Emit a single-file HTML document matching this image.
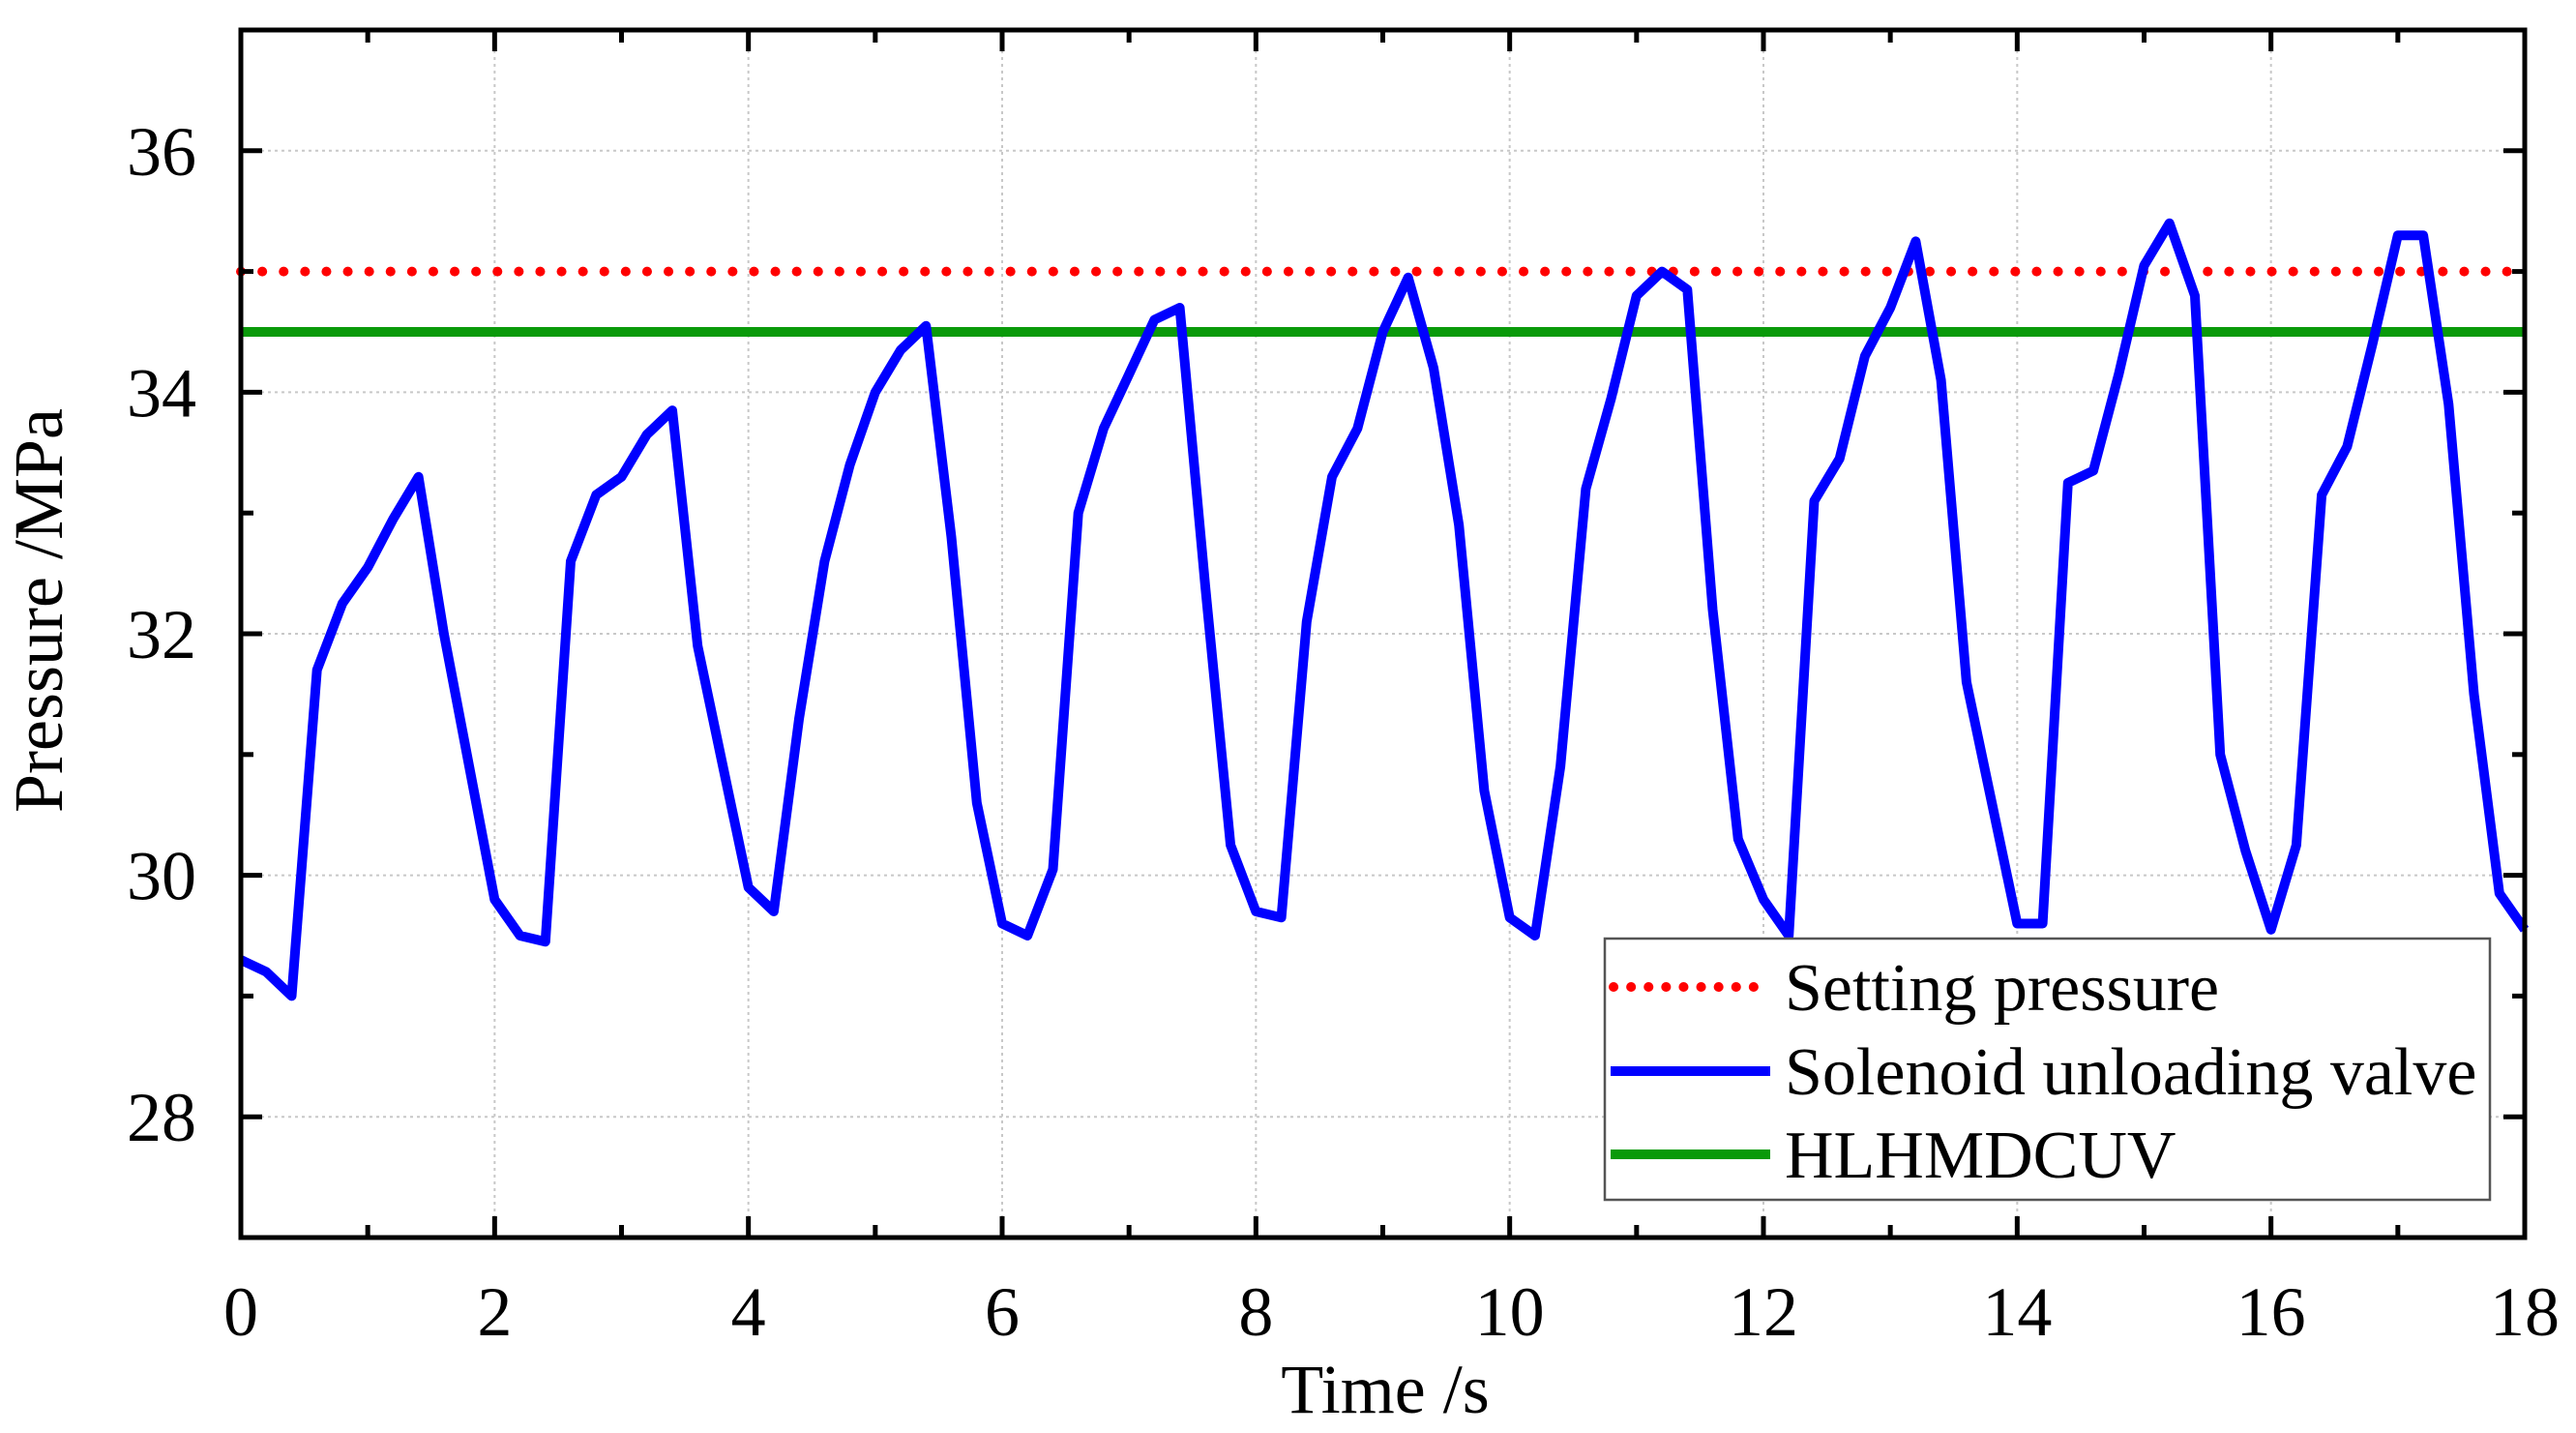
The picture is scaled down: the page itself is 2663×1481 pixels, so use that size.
<!DOCTYPE html>
<html><head><meta charset="utf-8"><style>
html,body{margin:0;padding:0;background:#fff;}
svg{display:block;font-family:"Liberation Serif",serif;}
</style></head><body>
<svg id="chart" width="2663" height="1481" viewBox="0 0 2663 1481" xmlns="http://www.w3.org/2000/svg">
<g id="grid"></g>
<g id="series"></g>
<g id="axes"></g>
<text x="1432" y="1460" font-size="72" text-anchor="middle">Time /s</text>
<text transform="translate(64,631) rotate(-90)" font-size="72" text-anchor="middle">Pressure /MPa</text>
<g>
<rect x="1659" y="970" width="915" height="270" fill="#fff" stroke="#555" stroke-width="2.5"/>
<line x1="1668" y1="1020" x2="1825" y2="1020" stroke="#f00" stroke-width="10" stroke-dasharray="0.1 18" stroke-linecap="round"/>
<text x="1845" y="1044" font-size="70">Setting pressure</text>
<line x1="1665" y1="1107" x2="1830" y2="1107" stroke="#0000ff" stroke-width="10"/>
<text x="1845" y="1131" font-size="70">Solenoid unloading valve</text>
<line x1="1665" y1="1193" x2="1830" y2="1193" stroke="#0a9a0a" stroke-width="10"/>
<text x="1845" y="1217" font-size="70">HLHMDCUV</text>
</g>
</svg>
<script>
const times = [0,0.2,0.4,0.6,0.8,1.0,1.2,1.4,1.6,1.8,2.0,2.2,2.4,2.6,2.8,3.0,3.2,3.4,3.6,3.8,4.0,4.2,4.4,4.6,4.8,5.0,5.2,5.4,5.6,5.8,6.0,6.2,6.4,6.6,6.8,7.0,7.2,7.4,7.6,7.8,8.0,8.2,8.4,8.6,8.8,9.0,9.2,9.4,9.6,9.8,10.0,10.2,10.4,10.6,10.8,11.0,11.2,11.4,11.6,11.8,12.0,12.2,12.4,12.6,12.8,13.0,13.2,13.4,13.6,13.8,14.0,14.2,14.4,14.6,14.8,15.0,15.2,15.4,15.6,15.8,16.0,16.2,16.4,16.6,16.8,17.0,17.2,17.4,17.6,17.8,18.0];
const solenoid = [29.3,29.2,29.0,31.7,32.25,32.55,32.95,33.3,32.0,30.9,29.8,29.5,29.45,32.6,33.15,33.3,33.65,33.85,31.9,30.9,29.9,29.7,31.3,32.6,33.4,34.0,34.35,34.55,32.8,30.6,29.6,29.5,30.05,33.0,33.7,34.15,34.6,34.7,32.4,30.25,29.7,29.65,32.1,33.3,33.7,34.5,34.95,34.2,32.9,30.7,29.65,29.5,30.9,33.2,33.95,34.8,35.0,34.85,32.2,30.3,29.8,29.5,33.1,33.45,34.3,34.7,35.25,34.1,31.6,30.6,29.6,29.6,33.25,33.35,34.15,35.05,35.4,34.8,31.0,30.2,29.55,30.25,33.15,33.55,34.4,35.3,35.3,33.9,31.5,29.85,29.55];
const settingPressure = [35];
const hlhmdcuv = [34.5];
const xTicks = [0,2,4,6,8,10,12,14,16,18];
const yTicks = [28,30,32,34,36];

const L=249,R=2610,T=31,B=1279,X0=0,X1=18,Y0=27,Y1=37;
const sx=v=>L+(v-X0)/(X1-X0)*(R-L);
const sy=v=>B-(v-Y0)/(Y1-Y0)*(B-T);
const NS='http://www.w3.org/2000/svg';
function mk(tag,attrs,parent){const e=document.createElementNS(NS,tag);for(const k in attrs)e.setAttribute(k,attrs[k]);parent.appendChild(e);return e;}
const grid=document.getElementById('grid'),series=document.getElementById('series'),axes=document.getElementById('axes');

xTicks.forEach(v=>{if(v===X0||v===X1)return;const g=mk('line',{x1:sx(v),x2:sx(v),y1:T,y2:B,stroke:'#c8c8c8','stroke-width':2,'stroke-dasharray':'3 4'},grid);

});
yTicks.forEach(v=>{const g=mk('line',{x1:L,x2:R,y1:sy(v),y2:sy(v),stroke:'#c8c8c8','stroke-width':2,'stroke-dasharray':'3 4'},grid);

});

const sp=mk('line',{x1:L,x2:R,y1:sy(settingPressure[0]),y2:sy(settingPressure[0]),stroke:'#f00','stroke-width':10,'stroke-dasharray':'0.1 22','stroke-linecap':'round'},series);


const hl=mk('line',{x1:L,x2:R,y1:sy(hlhmdcuv[0]),y2:sy(hlhmdcuv[0]),stroke:'#0a9a0a','stroke-width':10},series);


const pts=times.map((t,i)=>sx(t).toFixed(1)+','+sy(solenoid[i]).toFixed(1)).join(' ');
const pl=mk('polyline',{points:pts,fill:'none',stroke:'#0000ff','stroke-width':10,'stroke-linejoin':'round'},series);



const fr=mk('rect',{x:L,y:T,width:R-L,height:B-T,fill:'none',stroke:'#000','stroke-width':5},axes);


for(let v=X0;v<=X1;v+=1){const len=v%2===0?22:13;
 const a=mk('line',{x1:sx(v),x2:sx(v),y1:B,y2:B-len,stroke:'#000','stroke-width':5},axes);
 
 
 const b=mk('line',{x1:sx(v),x2:sx(v),y1:T,y2:T+len,stroke:'#000','stroke-width':5},axes);
 
 }
for(let v=Y0;v<=Y1;v+=1){const len=v%2===0?22:13;
 const a=mk('line',{x1:L,x2:L+len,y1:sy(v),y2:sy(v),stroke:'#000','stroke-width':5},axes);
 
 
 const b=mk('line',{x1:R,x2:R-len,y1:sy(v),y2:sy(v),stroke:'#000','stroke-width':5},axes);
 
 }
xTicks.forEach(v=>{const t=mk('text',{x:sx(v),y:1380,'font-size':72,'text-anchor':'middle'},axes);t.textContent=v;
 
 });
yTicks.forEach(v=>{const t=mk('text',{x:203,y:sy(v)+25,'font-size':72,'text-anchor':'end'},axes);t.textContent=v;
 
 });
</script>
</body></html>
